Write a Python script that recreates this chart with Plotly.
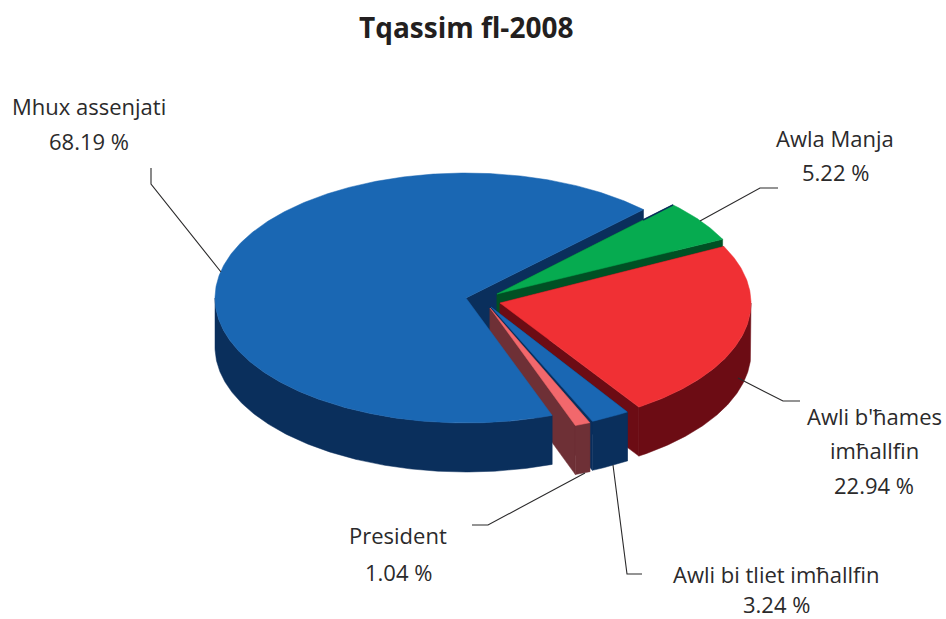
import math
import plotly.graph_objects as go

# Data, in drawing order around the pie (counter-clockwise from the start angle)
categories = ["Mhux assenjati", "President", "Awli bi tliet imħallfin", "Awli b'ħames imħallfin", "Awla Manja"]
values = [68.19, 1.04, 3.24, 22.94, 5.22]
value_labels = ["68.19 %", "1.04 %", "3.24 %", "22.94 %", "5.22 %"]
title_text = "Tqassim fl-2008"

# Styling of the 3-D projection
W, H = 946, 619
START = 45.0
RX, RY = 251.0, 125.0
DEPTH = 49.0
CENTER = (466.0, 298.0)
pull = [(0, 0), (24, 10), (25, 9), (34, 5), (31, -4)]
nudge_start = [0, -0.6, -0.4, -2.3, -2.5]
nudge_span = [-0.4, -0.2, -2.6, 0.7, 0.7]
top_colors = ["#1a67b3", "#f2686c", "#1a67b3", "#f03034", "#06ab50"]
side_colors = ["#0a2f5c", "#6e3036", "#0a2f5c", "#6c0c14", "#005024"]
TEXT = "#2b2a2b"
FONT = "Open Sans"

# angles from the values
angles = []
cum = START
for v, ns, nw in zip(values, nudge_start, nudge_span):
    a0 = cum + ns
    a1 = a0 + v * 3.6 + nw
    angles.append((a0, a1))
    cum += v * 3.6


def pt(c, a, dy=0.0):
    r = math.radians(a)
    return c[0] + RX * math.cos(r), c[1] - RY * math.sin(r) + dy


def arc(c, a0, a1, dy=0.0):
    n = max(2, int(abs(a1 - a0)) * 2)
    return [pt(c, a0 + (a1 - a0) * i / n, dy) for i in range(n + 1)]


fig = go.Figure()


def poly(points, color):
    fig.add_trace(go.Scatter(
        x=[p[0] for p in points] + [points[0][0]],
        y=[p[1] for p in points] + [points[0][1]],
        mode="lines", fill="toself", fillcolor=color,
        line=dict(color=color, width=0.5), hoverinfo="skip", showlegend=False))


def wall(i, a):
    c = (CENTER[0] + pull[i][0], CENTER[1] + pull[i][1])
    e = pt(c, a)
    poly([c, e, (e[0], e[1] + DEPTH), (c[0], c[1] + DEPTH)], side_colors[i])


def outer(i):
    c = (CENTER[0] + pull[i][0], CENTER[1] + pull[i][1])
    a0, a1 = angles[i]
    lo, hi = max(a0, 180), min(a1, 360)
    if hi > lo:
        poly(arc(c, lo, hi) + arc(c, hi, lo, DEPTH), side_colors[i])


def top(i):
    c = (CENTER[0] + pull[i][0], CENTER[1] + pull[i][1])
    a0, a1 = angles[i]
    poly([c] + arc(c, a0, a1), top_colors[i])


# back wall of the big slice first
wall(0, angles[0][0])
# the pulled-out slices, back to front
for i in (4, 3, 2, 1):
    a0, a1 = angles[i]
    wall(i, a1)
    wall(i, a0)
    outer(i)
    top(i)
# sliver behind the green slice
cg = (CENTER[0] + pull[4][0], CENTER[1] + pull[4][1])
eg = pt(cg, angles[4][1])
fig.add_trace(go.Scatter(
    x=[cg[0] + (eg[0] - cg[0]) * 0.83, eg[0]],
    y=[cg[1] + (eg[1] - cg[1]) * 0.83, eg[1]],
    mode="lines", line=dict(color=side_colors[0], width=1.5), hoverinfo="skip", showlegend=False))
# big slice in front
outer(0)
top(0)

# leader lines
leaders_x = [[151, 151, 221], [472, 488, 585], [642, 627, 613], [800, 783, 738], [778, 760, 700]]
leaders_y = [[168, 184, 272], [525, 525, 473], [574, 574, 465], [401, 401, 378], [188, 188, 221]]
for lx, ly in zip(leaders_x, leaders_y):
    fig.add_trace(go.Scatter(x=lx, y=ly, mode="lines", line=dict(color=TEXT, width=1.1),
                             hoverinfo="skip", showlegend=False))

# labels
label_lines = [
    [categories[0], value_labels[0]],
    [categories[1], value_labels[1]],
    [categories[2], value_labels[2]],
    ["Awli b'ħames", "imħallfin", value_labels[3]],
    [categories[4], value_labels[4]],
]
label_x = [89, 398, 776, 874, 835]
label_y = [[106, 141], [535, 572], [574, 604], [416, 450, 485], [138, 172]]
for lines, x, ys in zip(label_lines, label_x, label_y):
    for t, y in zip(lines, ys):
        fig.add_annotation(x=x, y=y, text=t, showarrow=False, xanchor="center", yanchor="middle",
                           font=dict(family=FONT, size=22, color=TEXT))

fig.add_annotation(x=466, y=27, text="<b>%s</b>" % title_text, showarrow=False,
                   xanchor="center", yanchor="middle",
                   font=dict(family=FONT, size=28, color="#231f20"))

fig.update_layout(
    width=W, height=H, margin=dict(l=0, r=0, t=0, b=0),
    paper_bgcolor="white", plot_bgcolor="white", showlegend=False,
    xaxis=dict(range=[0, W], visible=False, fixedrange=True),
    yaxis=dict(range=[H, 0], visible=False, fixedrange=True),
)
fig.write_html("out.html", config={"displayModeBar": False},
               post_script="document.body.style.margin='0';")
